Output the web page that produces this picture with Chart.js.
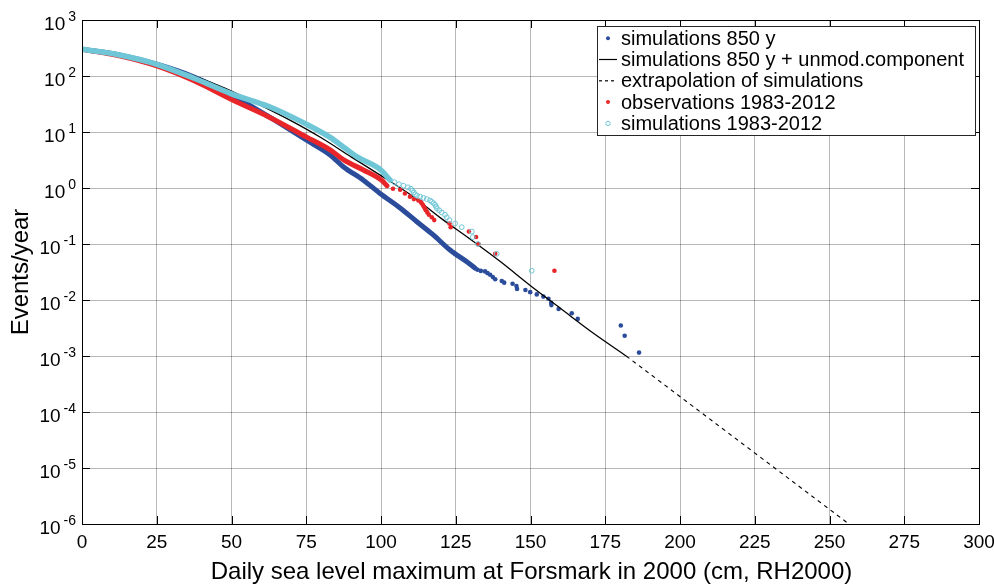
<!DOCTYPE html>
<html>
<head>
<meta charset="utf-8">
<script src="https://cdn.jsdelivr.net/npm/chart.js@4.4.1/dist/chart.umd.min.js"></script>
<style>
  html, body { margin: 0; padding: 0; background: #fff; }
  #wrap { width: 994px; height: 584px; }
</style>
</head>
<body>
<div id="wrap"><canvas id="freqChart" width="994" height="584"></canvas></div>
<script>
// Axis ticks
const xTicks = [0, 25, 50, 75, 100, 125, 150, 175, 200, 225, 250, 275, 300];
const yExponents = [-6, -5, -4, -3, -2, -1, 0, 1, 2, 3];

// simulations 850 y: dense part of the curve, then the sparse tail
const sim850X = [0, 12.5, 25, 37.5, 50, 62.5, 75, 83, 87.4, 94.1, 99.7, 106.4, 112, 117.5, 123.1, 128.7, 131.5];
const sim850Y = [300, 238, 162, 96, 46, 18.8, 7.2, 3.9, 2.4, 1.38, 0.80, 0.44, 0.25, 0.145, 0.078, 0.048, 0.037];
const sim850TailX = [132.3, 133.4, 134.8, 135.6, 136.5, 137.4, 138.2, 140.4, 141.2, 144.0, 145.3, 145.5, 148.3, 149.9, 152.1, 154.3, 156.0, 156.9, 157.0, 159.4, 163.8, 165.8, 180.2, 181.5, 186.3];
const sim850TailY = [0.0347, 0.0331, 0.0324, 0.0302, 0.0282, 0.0257, 0.0234, 0.0219, 0.0204, 0.0195, 0.0178, 0.0158, 0.0151, 0.0138, 0.0126, 0.0115, 0.0105, 0.0089, 0.0081, 0.0069, 0.0058, 0.0046, 0.0035, 0.0023, 0.00115];

// simulations 850 y + unmodelled component, and its extrapolation
const combX = [0, 10, 20, 30, 40, 50, 60, 70, 80, 90, 100, 110, 120, 130, 140, 150, 160, 170, 182];
const combY = [300, 251, 195, 138, 89, 54, 29.5, 15.8, 7.9, 3.6, 1.66, 0.75, 0.29, 0.12, 0.048, 0.018, 0.0071, 0.0028, 0.001];
const extrapX = [182, 256.5];
const extrapY = [0.001, 0.000001];

// observations 1983-2012
const obsX = [0, 12.5, 25, 37.5, 50, 62.5, 75, 83, 87.4, 94.1, 100, 102];
const obsY = [300, 229, 151, 82, 38, 18.6, 8.2, 4.8, 3.2, 2.1, 1.4, 1.1];
const obsDotX = [104, 106.4, 108, 109.7, 111, 112.5, 113.3, 113.6, 114, 114.3, 114.7, 115, 115.5, 116, 117, 117.8, 122.9, 123.3, 129.4, 131.8, 132.6, 138.2, 158];
const obsDotY = [0.967, 0.933, 0.8, 0.7, 0.633, 0.6, 0.567, 0.533, 0.5, 0.467, 0.433, 0.4, 0.367, 0.333, 0.3, 0.267, 0.233, 0.2, 0.167, 0.133, 0.1, 0.0667, 0.0333];

// simulations 1983-2012
const simObsX = [0, 12.5, 25, 37.5, 50, 62.5, 75, 83, 87.4, 92, 99.7, 103];
const simObsY = [300, 237, 162, 91, 48, 28.5, 13.8, 8.0, 5.4, 3.6, 2.15, 1.39];
const simObsDotX = [104.5, 106, 107.5, 109, 110, 110.5, 111.0, 111.4, 112, 113.1, 114.2, 115.3, 116.4, 117.0, 117.6, 118.1, 118.4, 118.7, 119.5, 120.3, 121.4, 122.0, 122.9, 124.8, 127.0, 130.4, 130.7, 132.4, 138.7, 150.4];
const simObsDotY = [1.27, 1.17, 1.10, 1.03, 0.97, 0.90, 0.83, 0.77, 0.733, 0.70, 0.667, 0.633, 0.60, 0.567, 0.533, 0.50, 0.467, 0.433, 0.40, 0.367, 0.333, 0.30, 0.267, 0.233, 0.20, 0.167, 0.133, 0.10, 0.0667, 0.0333];

const FONT = '"Liberation Sans", Arial, Helvetica, sans-serif';
const BLUE = '#2b4c9b';
const RED = '#e8262a';
const CYAN = '#6ec6d6';

const pts = (xs, ys) => xs.map((v, i) => ({ x: v, y: ys[i] }));

// Band (dense part) drawn as a thick line
function band(data, color, width, order) {
    return {
        type: 'line', data, order,
        borderColor: color, borderWidth: width, borderCapStyle: 'round',
        pointRadius: 0, cubicInterpolationMode: 'monotone', fill: false
    };
}

function dots(data, color, order, hollow) {
    return {
        type: 'scatter', data, order, showLine: false,
        pointRadius: hollow ? 2.4 : 2.3,
        pointBorderWidth: hollow ? 1 : 0,
        pointBorderColor: color,
        pointBackgroundColor: hollow ? 'rgba(0,0,0,0)' : color
    };
}

// Box, inward ticks, tick labels, axis titles and legend
const frame = {
    id: 'frame',
    afterDraw(chart) {
        const { ctx, chartArea: a, scales: { x, y } } = chart;
        ctx.save();

        ctx.strokeStyle = '#000';
        ctx.lineWidth = 1;
        ctx.beginPath();
        xTicks.forEach(v => {
            const px = Math.round(x.getPixelForValue(v)) + 0.5;
            ctx.moveTo(px, a.bottom); ctx.lineTo(px, a.bottom - 8);
            ctx.moveTo(px, a.top); ctx.lineTo(px, a.top + 8);
        });
        yExponents.forEach(e => {
            const py = Math.round(y.getPixelForValue(Math.pow(10, e))) + 0.5;
            ctx.moveTo(a.left, py); ctx.lineTo(a.left + 8, py);
            ctx.moveTo(a.right, py); ctx.lineTo(a.right - 8, py);
        });
        ctx.stroke();
        ctx.strokeRect(Math.round(a.left) + 0.5, Math.round(a.top) + 0.5,
            Math.round(a.right - a.left), Math.round(a.bottom - a.top));

        ctx.fillStyle = '#000';
        ctx.textBaseline = 'alphabetic';

        // x tick labels
        ctx.font = '19px ' + FONT;
        ctx.textAlign = 'center';
        xTicks.forEach(v => ctx.fillText(String(v), x.getPixelForValue(v), a.bottom + 24));

        // y tick labels as 10 with a raised exponent
        ctx.textAlign = 'right';
        yExponents.forEach(e => {
            const py = y.getPixelForValue(Math.pow(10, e));
            const sup = String(e);
            ctx.font = '14px ' + FONT;
            ctx.fillText(sup, a.left - 6, py + 0.5);
            const w = ctx.measureText(sup).width;
            ctx.font = '19px ' + FONT;
            ctx.fillText('10', a.left - 6 - w - 3, py + 10);
        });

        // axis titles
        ctx.font = '24px ' + FONT;
        ctx.textAlign = 'center';
        ctx.fillText('Daily sea level maximum at Forsmark in 2000 (cm, RH2000)', (a.left + a.right) / 2 + 1, 579);
        ctx.save();
        ctx.translate(28, (a.top + a.bottom) / 2);
        ctx.rotate(-Math.PI / 2);
        ctx.fillText('Events/year', 0, 0);
        ctx.restore();

        // legend
        const lx = 597, ly = 26, lw = a.right - 4 - lx, lh = 135 - ly;
        ctx.fillStyle = '#fff';
        ctx.fillRect(lx, ly, lw, lh);
        ctx.strokeStyle = '#262626';
        ctx.strokeRect(lx + 0.5, ly + 0.5, lw, lh);

        const rows = [
            { text: 'simulations 850 y', kind: 'dot', color: BLUE },
            { text: 'simulations 850 y + unmod.component', kind: 'line', color: '#000' },
            { text: 'extrapolation of simulations', kind: 'dash', color: '#000' },
            { text: 'observations 1983-2012', kind: 'dot', color: RED },
            { text: 'simulations 1983-2012', kind: 'ring', color: CYAN }
        ];
        ctx.font = '20px ' + FONT;
        ctx.textAlign = 'left';
        rows.forEach((r, i) => {
            const base = 44.7 + i * 21.3;
            const cy = base - 6.5;
            ctx.strokeStyle = r.color;
            ctx.fillStyle = r.color;
            if (r.kind === 'line' || r.kind === 'dash') {
                ctx.setLineDash(r.kind === 'dash' ? [3, 3] : []);
                ctx.lineWidth = 1.2;
                ctx.beginPath(); ctx.moveTo(599, cy); ctx.lineTo(617, cy); ctx.stroke();
                ctx.setLineDash([]);
            } else if (r.kind === 'dot') {
                ctx.beginPath(); ctx.arc(608, cy, 2, 0, Math.PI * 2); ctx.fill();
            } else {
                ctx.lineWidth = 1;
                ctx.beginPath(); ctx.arc(608, cy, 2.2, 0, Math.PI * 2); ctx.stroke();
            }
            ctx.fillStyle = '#000';
            ctx.fillText(r.text, 621, base);
        });

        ctx.restore();
    }
};

new Chart(document.getElementById('freqChart'), {
    type: 'scatter',
    data: {
        datasets: [
            dots(pts(simObsDotX, simObsDotY), CYAN, 0, true),
            band(pts(simObsX, simObsY), CYAN, 5.5, 1),
            dots(pts(obsDotX, obsDotY), RED, 2, false),
            band(pts(obsX, obsY), RED, 5, 3),
            {
                type: 'line', data: pts(extrapX, extrapY), order: 4,
                borderColor: '#000', borderWidth: 1.1, borderDash: [4, 4],
                pointRadius: 0, fill: false
            },
            {
                type: 'line', data: pts(combX, combY), order: 5,
                borderColor: '#000', borderWidth: 1.3,
                pointRadius: 0, cubicInterpolationMode: 'monotone', fill: false
            },
            dots(pts(sim850TailX, sim850TailY), BLUE, 6, false),
            band(pts(sim850X, sim850Y), BLUE, 5, 7)
        ]
    },
    options: {
        responsive: false,
        animation: false,
        devicePixelRatio: 1,
        layout: { padding: { top: 20, right: 15, left: 0, bottom: 0 } },
        plugins: { legend: { display: false }, tooltip: { enabled: false } },
        scales: {
            x: {
                type: 'linear', min: 0, max: 300,
                ticks: { stepSize: 25, display: false },
                grid: { color: 'rgba(0,0,0,0.28)', lineWidth: 1, drawTicks: false },
                border: { display: false },
                afterFit: s => { s.height = 60; }
            },
            y: {
                type: 'logarithmic', min: 1e-6, max: 1e3,
                ticks: { display: false },
                afterBuildTicks: s => { s.ticks = yExponents.map(e => ({ value: Math.pow(10, e) })); },
                grid: { color: 'rgba(0,0,0,0.28)', lineWidth: 1, drawTicks: false },
                border: { display: false },
                afterFit: s => { s.width = 82; }
            }
        }
    },
    plugins: [frame]
});
</script>
</body>
</html>
